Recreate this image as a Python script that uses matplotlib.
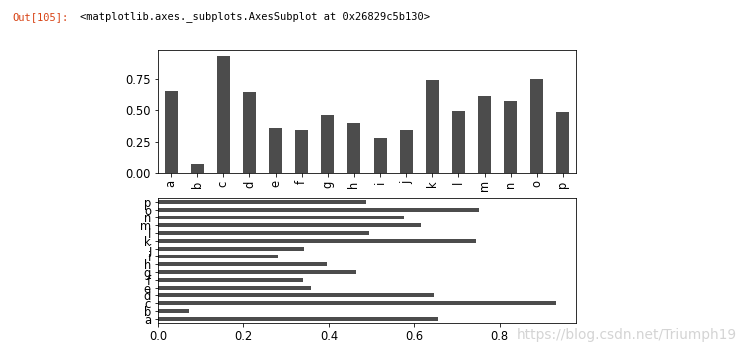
# Import des librairies
import matplotlib
matplotlib.use('Agg')
import matplotlib.pyplot as plt
from matplotlib.ticker import MultipleLocator
import pandas as pd

# Données
lettres = list('abcdefghijklmnop')
valeurs = [0.655, 0.072, 0.932, 0.647, 0.358, 0.340, 0.464, 0.396,
           0.280, 0.341, 0.744, 0.495, 0.615, 0.577, 0.752, 0.486]

data = pd.Series(valeurs, index=lettres)

# Taille de police des graduations (capture légèrement agrandie)
plt.rcParams['font.size'] = 11.5

# Figure à la taille de la capture (dpi 72 comme dans le notebook)
fig = plt.figure(figsize=(748 / 72, 353 / 72), dpi=72)

# Texte de sortie du notebook
fig.text(12 / 748, 1 - 17 / 353, 'Out[105]:', color='#D84315',
         family='DejaVu Sans Mono', fontsize=10.4, va='center')
fig.text(80 / 748, 1 - 17 / 353,
         '<matplotlib.axes._subplots.AxesSubplot at 0x26829c5b130>',
         color='black', family='DejaVu Sans Mono', fontsize=10.4, va='center')

# Diagramme en barres verticales
ax1 = fig.add_axes([158 / 748, 1 - 173.3 / 353, 418 / 748, 123.3 / 353])
data.plot.bar(ax=ax1, color='k', alpha=0.7)
ax1.yaxis.set_major_locator(MultipleLocator(0.25))

# Diagramme en barres horizontales
ax2 = fig.add_axes([158 / 748, 1 - 322.7 / 353, 418 / 748, 124.7 / 353])
data.plot.barh(ax=ax2, color='k', alpha=0.7)

# Filigrane du blog
fig.text(517 / 748, 1 - 335 / 353, 'https://blog.csdn.net/Triumph19',
         color='#d4d4d4', fontsize=13.8, va='center')

fig.savefig('out.png', dpi=72)
